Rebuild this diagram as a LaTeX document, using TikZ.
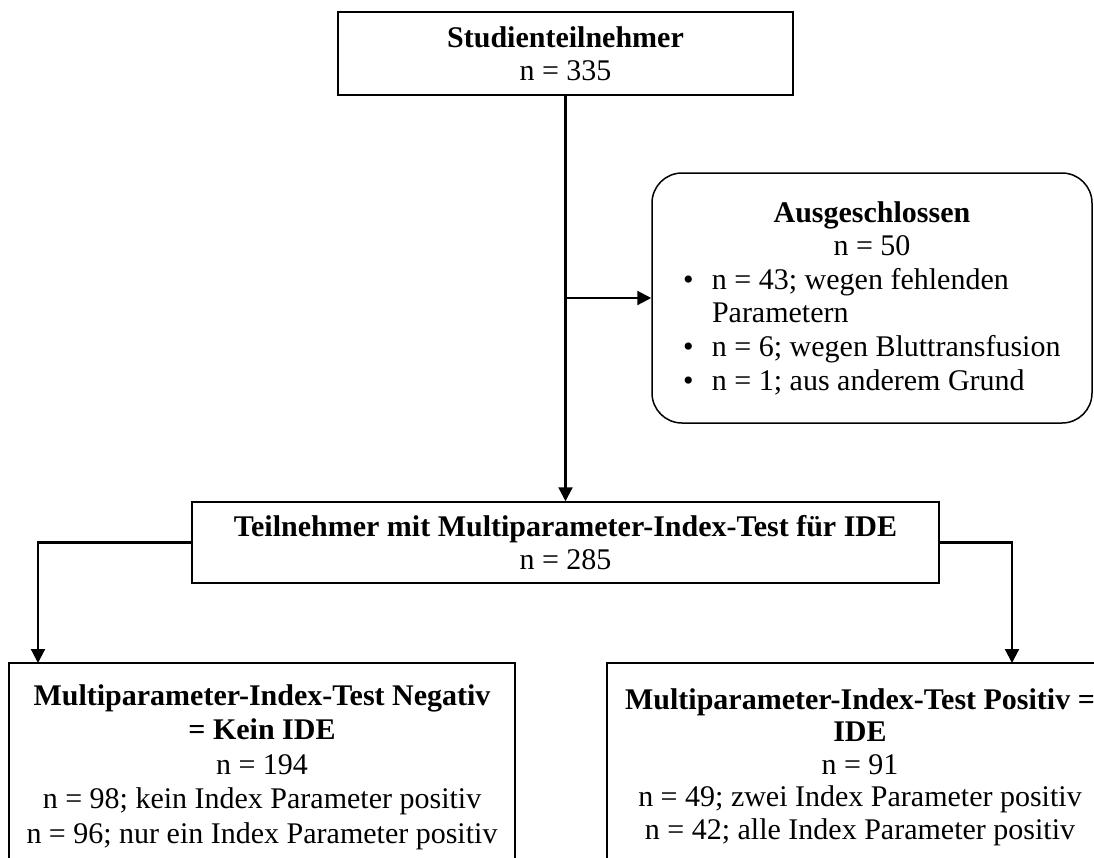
\documentclass[tikz,border=0pt]{standalone}
\usepackage{fontspec}
\setmainfont{Liberation Serif}
\usetikzlibrary{arrows.meta}

\newcommand{\exitem}[1]{\par\hangindent=18pt\hangafter=1\noindent\makebox[18pt][l]{\hspace{3.5pt}\textbullet}#1}

\begin{document}
\begin{tikzpicture}[x=0.5pt,y=-0.5pt]
        \fill[white] (0,0) rectangle (1094,858);
        \useasboundingbox (0,0) rectangle (1094,858);
        \clip (0,0) rectangle (1094,858);
        \begin{scope}[every node/.style={draw,line width=0.75pt,fill=white,align=center,inner sep=0pt,
            font=\fontsize{15pt}{16.5pt}\selectfont}]
          \node[minimum width=227.5pt,minimum height=41.5pt] (top) at (565.5,53.5)
            {\textbf{Studienteilnehmer}\\n = 335};
          \node[rounded corners=15pt,minimum width=220pt,minimum height=125pt,font=\fontsize{15pt}{16.8pt}\selectfont] (excl) at (872,298)
            {\begin{minipage}{196pt}
             {\centering\textbf{Ausgeschlossen}\\n = 50\par}\raggedright
             \exitem{n = 43; wegen fehlenden\newline Parametern}
             \exitem{n = 6; wegen Bluttransfusion}
             \exitem{n = 1; aus anderem Grund}
             \end{minipage}};
          \node[minimum width=373.5pt,minimum height=40.5pt] (mid) at (565.5,542.5)
            {\textbf{Teilnehmer mit Multiparameter-Index-Test für IDE}\\n = 285};
          \node[minimum width=253pt,minimum height=104pt,font=\fontsize{15pt}{17.3pt}\selectfont] (neg) at (262,767)
            {\textbf{Multiparameter-Index-Test Negativ}\\\textbf{= Kein IDE}\\n = 194\\
             n = 98; kein Index Parameter positiv\\n = 96; nur ein Index Parameter positiv};
          \node[minimum width=253pt,minimum height=104pt,font=\fontsize{15pt}{16.3pt}\selectfont] (pos) at (860,767)
            {\textbf{Multiparameter-Index-Test Positiv =}\\\textbf{IDE}\\n = 91\\
             n = 49; zwei Index Parameter positiv\\n = 42; alle Index Parameter positiv};
        \end{scope}
        \coordinate (negin) at (38,663);
        \coordinate (posin) at (1012,663);
        \begin{scope}[every path/.style={line width=1.1pt,-{Triangle[length=7pt,width=7pt]}}]
          \draw (top.south) -- (mid.north);
          \draw (top.south |- excl.west) -- (excl.west);
          \draw (mid.west) -| (negin);
          \draw (mid.east) -| (posin);
        \end{scope}
      \end{tikzpicture}
\end{document}
